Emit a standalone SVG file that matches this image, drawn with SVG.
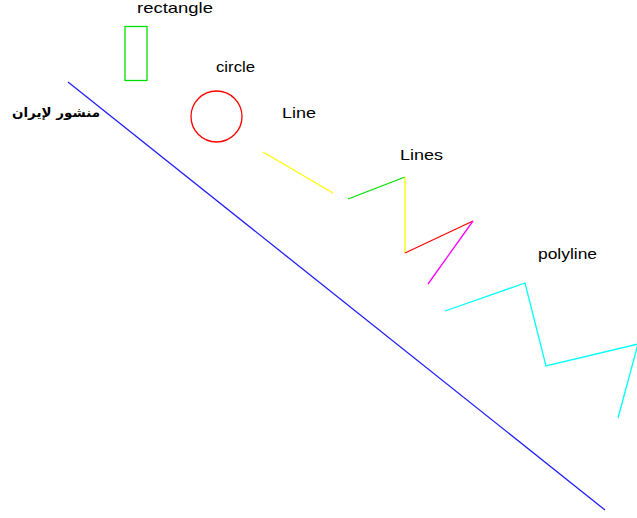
<svg xmlns="http://www.w3.org/2000/svg" width="637" height="518" viewBox="0 0 637 518">
<style>
text{font-family:"Liberation Sans",Arial,sans-serif;font-size:15px;fill:#000}
.ar{font-family:"DejaVu Sans","Noto Sans",sans-serif;font-size:13px;font-weight:bold}
.s{fill:none;stroke-width:1.3}
</style>
<rect width="637" height="518" fill="#fff"/>
<g id="rectangle">
<text x="137" y="13" textLength="76" lengthAdjust="spacingAndGlyphs">rectangle</text>
<rect class="s" x="125" y="26.5" width="22" height="54" stroke="#00e000"/>
</g>
<g id="circle">
<text x="216" y="72" textLength="39" lengthAdjust="spacingAndGlyphs">circle</text>
<circle class="s" cx="216.5" cy="116.5" r="25.5" stroke="#ff0000"/>
</g>
<g id="arabic">
<text class="ar" x="12" y="117" textLength="88" lengthAdjust="spacingAndGlyphs">منشور لإيران</text>
</g>
<g id="diagonal">
<line class="s" x1="68" y1="82" x2="605" y2="510" stroke="#2020ff"/>
</g>
<g id="line">
<text x="282" y="118" textLength="34" lengthAdjust="spacingAndGlyphs">Line</text>
<line class="s" x1="263" y1="152" x2="333" y2="193" stroke="#ffff00"/>
</g>
<g id="lines">
<text x="400" y="160" textLength="43" lengthAdjust="spacingAndGlyphs">Lines</text>
<line class="s" x1="348" y1="199" x2="405" y2="177" stroke="#00e000"/>
<line class="s" x1="405" y1="177" x2="405" y2="253" stroke="#ffff00"/>
<line class="s" x1="405" y1="253" x2="473" y2="221" stroke="#ff0000"/>
<line class="s" x1="473" y1="221" x2="428" y2="284" stroke="#ff00ff"/>
</g>
<g id="polyline">
<text x="538" y="259" textLength="59" lengthAdjust="spacingAndGlyphs">polyline</text>
<polyline class="s" points="445,311 525,283 546,366 638,344 618,418" stroke="#00ffff"/>
</g>
</svg>
